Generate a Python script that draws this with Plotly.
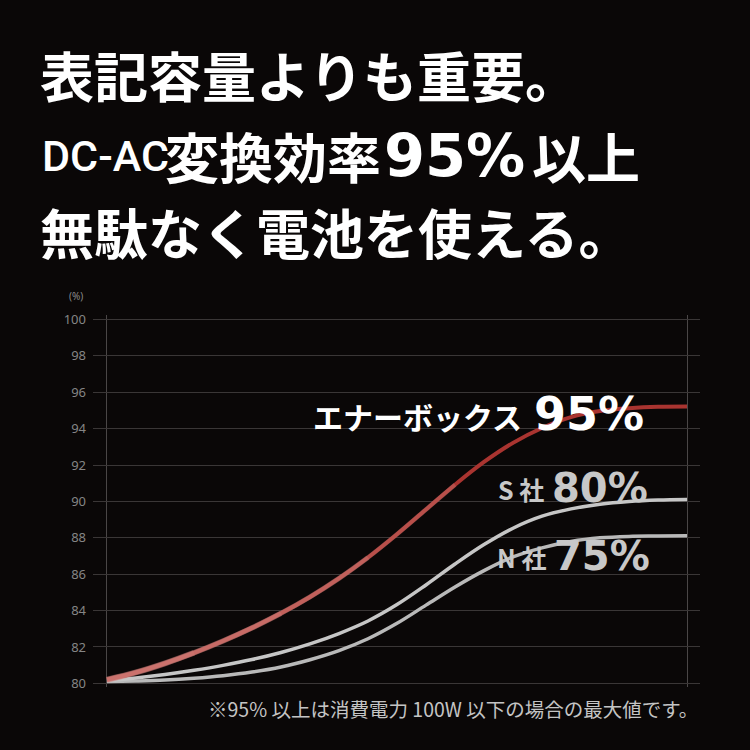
import plotly.graph_objects as go

# position along the load axis (0 = left edge, 100 = right edge of the chart)
load = [0, 5, 10, 15, 20, 25, 30, 35, 40, 45, 50, 55, 60, 65, 70, 75, 80, 85, 90, 95, 100]

# efficiency (%)
enerbox = [80.2, 80.6, 81.1, 81.68, 82.33, 83.05, 83.85, 84.75, 85.77, 86.92, 88.2,
           89.56, 90.92, 92.17, 93.22, 94.04, 94.64, 94.97, 95.12, 95.2, 95.22]
s_sha = [80.15, 80.3, 80.49, 80.72, 80.99, 81.31, 81.7, 82.17, 82.74, 83.43, 84.33,
         85.41, 86.56, 87.63, 88.53, 89.19, 89.59, 89.85, 90.0, 90.08, 90.11]
n_sha = [80.1, 80.13, 80.18, 80.28, 80.42, 80.62, 80.9, 81.3, 81.8, 82.45, 83.3,
         84.3, 85.3, 86.2, 86.95, 87.45, 87.8, 88.0, 88.08, 88.1, 88.12]

y_ticks = list(range(80, 101, 2))

BG = "#0a0707"
CJK = "Noto Sans CJK JP"
NUM = "DejaVu Sans"

fig = go.Figure()

fig.add_trace(go.Scatter(x=load, y=n_sha, mode="lines", line=dict(color="#b9b9b9", width=3.5, shape="spline")))
fig.add_trace(go.Scatter(x=load, y=s_sha, mode="lines", line=dict(color="#c6c6c6", width=3.5, shape="spline")))
fig.add_trace(go.Scatter(x=load, y=enerbox, mode="lines", line=dict(color="#a93430", width=4, shape="spline")))
# lighter, thicker start of the red line (fades towards the right)
for n, w in [(13, 4.5), (10, 5), (7, 5.5), (4, 6)]:
    fig.add_trace(go.Scatter(x=load[:n], y=enerbox[:n], mode="lines", opacity=0.35,
                             line=dict(color="#d4817c", width=w, shape="spline")))

# plot area in pixels: left 93, right 700, top 315, bottom 687
L, R, T, B = 93, 700, 315, 687


def px(x, y):
    return (x - L) / (R - L), (B - y) / (B - T)


def note(text, x, y, size, color="white", family=CJK, xanchor="left", bold=True, weight=None):
    ax, ay = px(x, y)
    font = dict(family=family, size=size, color=color)
    if weight:
        font["weight"] = weight
    fig.add_annotation(
        text=f"<b>{text}</b>" if bold else text,
        x=ax, y=ay, xref="paper", yref="paper",
        xanchor=xanchor, yanchor="middle", showarrow=False, font=font,
    )


# headline
note("表記容量よりも重要。", 38, 75, 54)
note("DC-AC", 40, 156, 43, family="Roboto", bold=False, weight=500)
note("変換効率", 163, 156, 54)
note("95%", 382, 156, 59, family=NUM)
note("以上", 530, 156, 54)
note("無駄なく電池を使える。", 38, 231, 54)

# series labels
note("エナーボックス", 524, 416, 30, xanchor="right")
note("95%", 532, 414, 46, family=NUM)
note("S 社", 546, 489, 25, color="#c8c8c8", xanchor="right")
note("80%", 550, 488, 40, color="#c8c8c8", family=NUM)
note("N 社", 548, 557, 25, color="#c8c8c8", xanchor="right")
note("75%", 552, 556, 40, color="#c8c8c8", family=NUM)

# unit and footnote
note("(%)", 76, 296, 10, color="#8a8a8a", family="Noto Sans", xanchor="center", bold=False)
note("※95% 以上は消費電力 100W 以下の場合の最大値です。", 700, 708, 19.5,
     color="#c4c4c4", xanchor="right", bold=False)

fig.update_layout(
    width=750, height=750,
    margin=dict(l=L, r=750 - R, t=T, b=750 - B),
    paper_bgcolor=BG, plot_bgcolor=BG,
    showlegend=False,
    xaxis=dict(range=[-2.41, 102.24], tickvals=[0, 100], showticklabels=False,
               showgrid=True, gridcolor="#4a4646", gridwidth=1, zeroline=False, showline=False),
    yaxis=dict(range=[79.8, 100.25], tickvals=y_ticks, showgrid=True, gridcolor="#3a3636",
               gridwidth=1, zeroline=False, showline=False, ticks="", ticklabelstandoff=6,
               tickfont=dict(family="Noto Sans", size=13, color="#858585")),
)

# page margin off so the chart sits at the window's corner
fig.write_html("out.html", config={"displayModeBar": False},
               post_script="document.body.style.margin='0';")
